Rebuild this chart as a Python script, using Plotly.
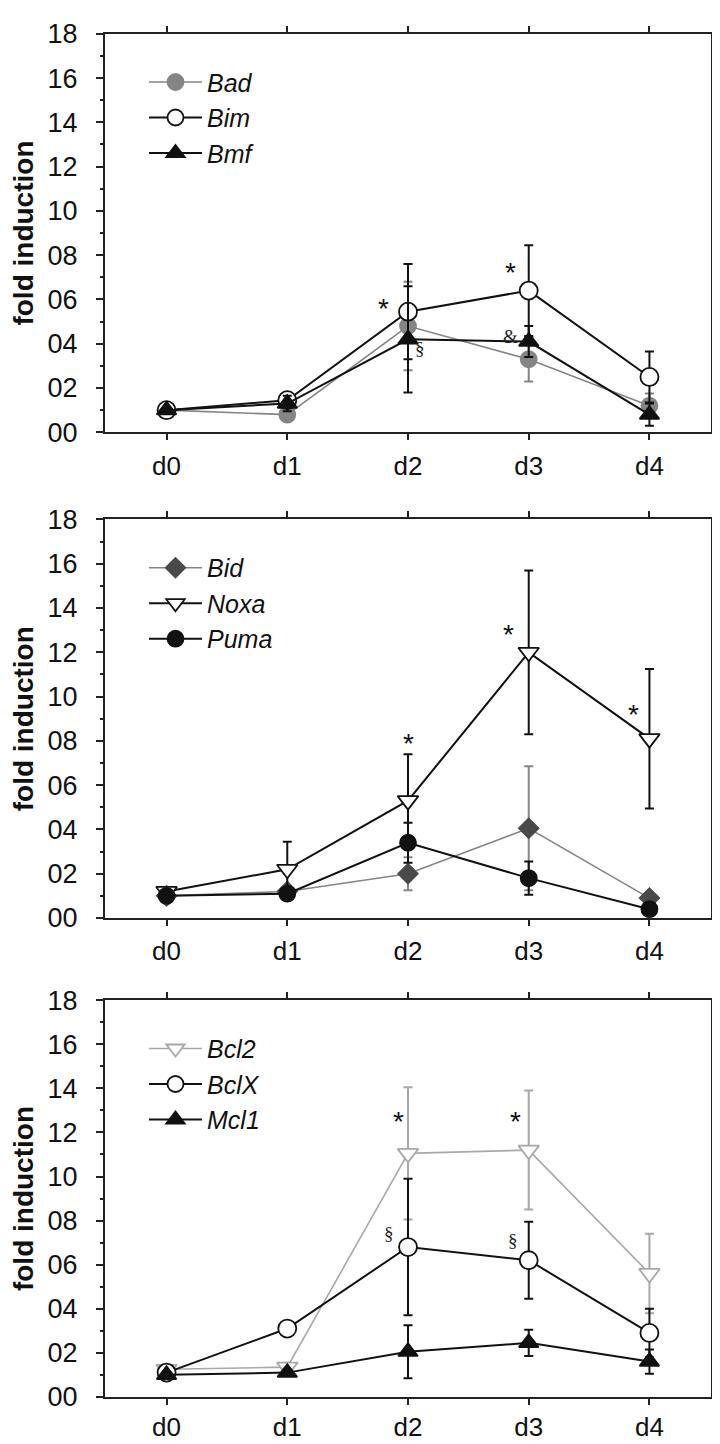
import plotly.graph_objects as go

days = ["d0", "d1", "d2", "d3", "d4"]
ytick_vals = [0, 2, 4, 6, 8, 10, 12, 14, 16, 18]
ytick_text = ["00", "02", "04", "06", "08", "10", "12", "14", "16", "18"]

# Panel 1
bad = [1.0, 0.8, 4.8, 3.3, 1.2]
bad_err = [0.1, 0.15, 2.0, 1.0, 0.55]
bim = [1.0, 1.45, 5.45, 6.4, 2.5]
bim_err = [0.1, 0.3, 2.15, 2.05, 1.15]
bmf = [1.0, 1.3, 4.2, 4.1, 0.8]
bmf_err = [0.1, 0.35, 2.4, 0.7, 0.5]

# Panel 2
bid = [1.0, 1.2, 2.0, 4.05, 0.9]
bid_err = [0.1, 0.2, 0.75, 2.8, 0.1]
noxa = [1.2, 2.2, 5.3, 12.0, 8.1]
noxa_err = [0.2, 1.25, 2.1, 3.7, 3.15]
puma = [1.0, 1.1, 3.4, 1.8, 0.4]
puma_err = [0.1, 0.15, 0.9, 0.75, 0.15]

# Panel 3
bcl2 = [1.25, 1.35, 11.05, 11.2, 5.6]
bcl2_err = [0.15, 0.2, 3.0, 2.7, 1.8]
bclx = [1.1, 3.1, 6.8, 6.2, 2.9]
bclx_err = [0.1, 0.1, 3.1, 1.75, 1.1]
mcl1 = [1.0, 1.1, 2.05, 2.45, 1.6]
mcl1_err = [0.1, 0.1, 1.2, 0.6, 0.55]

# significance marks: panel, x (category index + offset), y, text
ann_panel = [1, 1, 1, 1, 2, 2, 2, 3, 3, 3, 3]
ann_x = [1.8, 2.85, 2.85, 2.1, 2.0, 2.83, 3.87, 1.92, 2.89, 1.84, 2.87]
ann_y = [5.6, 7.2, 4.35, 3.8, 7.9, 12.8, 9.2, 12.5, 12.5, 7.4, 7.1]
ann_text = ["*", "*", "&", "§", "*", "*", "*", "*", "*", "§", "§"]

BLACK = "#111111"
GRAY = "#858585"
DGRAY = "#4a4a4a"
LGRAY = "#a8a8a8"

series = [
    # panel, name, y, err, line color, marker symbol, marker fill, marker line color, size, line width
    (1, "Bad", bad, bad_err, GRAY, "circle", GRAY, GRAY, 16, 1.6),
    (1, "Bim", bim, bim_err, BLACK, "circle", "white", BLACK, 18, 2),
    (1, "Bmf", bmf, bmf_err, BLACK, "triangle-up", BLACK, BLACK, 17, 2),
    (2, "Bid", bid, bid_err, GRAY, "diamond", DGRAY, DGRAY, 15, 1.6),
    (2, "Noxa", noxa, noxa_err, BLACK, "triangle-down", "white", BLACK, 18, 2),
    (2, "Puma", puma, puma_err, BLACK, "circle", BLACK, BLACK, 16, 2),
    (3, "Bcl2", bcl2, bcl2_err, LGRAY, "triangle-down", "white", LGRAY, 18, 1.6),
    (3, "BclX", bclx, bclx_err, BLACK, "circle", "white", BLACK, 18, 2),
    (3, "Mcl1", mcl1, mcl1_err, BLACK, "triangle-up", BLACK, BLACK, 17, 2),
]

H = 1444.0
panel_px = {1: (11, 418), 2: (507, 914), 3: (998, 1403)}

fig = go.Figure()

for panel, name, yv, ev, lc, sym, fill, mlc, size, lw in series:
    sfx = "" if panel == 1 else str(panel)
    fig.add_trace(go.Scatter(
        x=days, y=yv, name=name, mode="lines+markers",
        xaxis="x" + sfx, yaxis="y" + sfx,
        legend="legend" + sfx,
        line=dict(color=lc, width=lw),
        marker=dict(symbol=sym, size=size, color=fill,
                    line=dict(color=mlc, width=1.8)),
        error_y=dict(type="data", array=ev, visible=True, color=lc,
                     thickness=2, width=4.5),
        cliponaxis=False,
    ))

tick_font = dict(family="Liberation Sans, Arial, sans-serif", size=27, color="#111")
xtick_font = dict(family="Liberation Sans, Arial, sans-serif", size=26, color="#111")
layout = dict(
    width=720, height=1444,
    margin=dict(l=97, r=17, t=0, b=0),
    paper_bgcolor="white", plot_bgcolor="white",
    showlegend=True,
)

for p in (1, 2, 3):
    sfx = "" if p == 1 else str(p)
    top, bot = panel_px[p]
    layout["xaxis" + sfx] = dict(
        type="category", range=[-0.51, 4.51], anchor="y" + sfx,
        showline=True, linewidth=2, linecolor="#222", mirror="ticks",
        ticks="outside", ticklen=6, tickwidth=2, tickcolor="#222",
        showgrid=False, zeroline=False, tickfont=xtick_font,
        ticklabelstandoff=3 if p < 3 else 0,
    )
    layout["yaxis" + sfx] = dict(
        domain=[1 - bot / H, 1 - top / H], anchor="x" + sfx,
        range=[0, 18], tickvals=ytick_vals, ticktext=ytick_text,
        showline=True, linewidth=2, linecolor="#222", mirror="ticks",
        ticks="outside", ticklen=7, tickwidth=2, tickcolor="#222",
        minor=dict(ticks="outside", ticklen=3, tickwidth=1.5, dtick=1, tickcolor="#222"),
        showgrid=False, zeroline=False, tickfont=tick_font,
        ticklabelstandoff=13,
        title=dict(text="fold induction", standoff=12,
                   font=dict(family="Liberation Sans, Arial, sans-serif", size=28,
                             weight="bold", color="#111")),
    )
    layout["legend" + sfx] = dict(
        x=(136 - 97) / 606.0, xanchor="left",
        y=1 - (top + 26) / H, yanchor="top", yref="paper",
        bgcolor="rgba(0,0,0,0)", borderwidth=0, itemwidth=53,
        font=dict(family="Liberation Sans, Arial, sans-serif", size=25,
                  style="italic", color="#111"),
        tracegroupgap=0,
    )

annotations = []
for p, ax, ay, t in zip(ann_panel, ann_x, ann_y, ann_text):
    sfx = "" if p == 1 else str(p)
    if t == "*":
        f = dict(family="Liberation Sans, Arial, sans-serif", size=28, color="#111")
    else:
        f = dict(family="Liberation Serif, serif", size=19, color="#222")
    annotations.append(dict(x=ax, y=ay, xref="x" + sfx, yref="y" + sfx,
                            text=t, showarrow=False, font=f))
layout["annotations"] = annotations

fig.update_layout(**layout)
fig.write_html("out.html")
